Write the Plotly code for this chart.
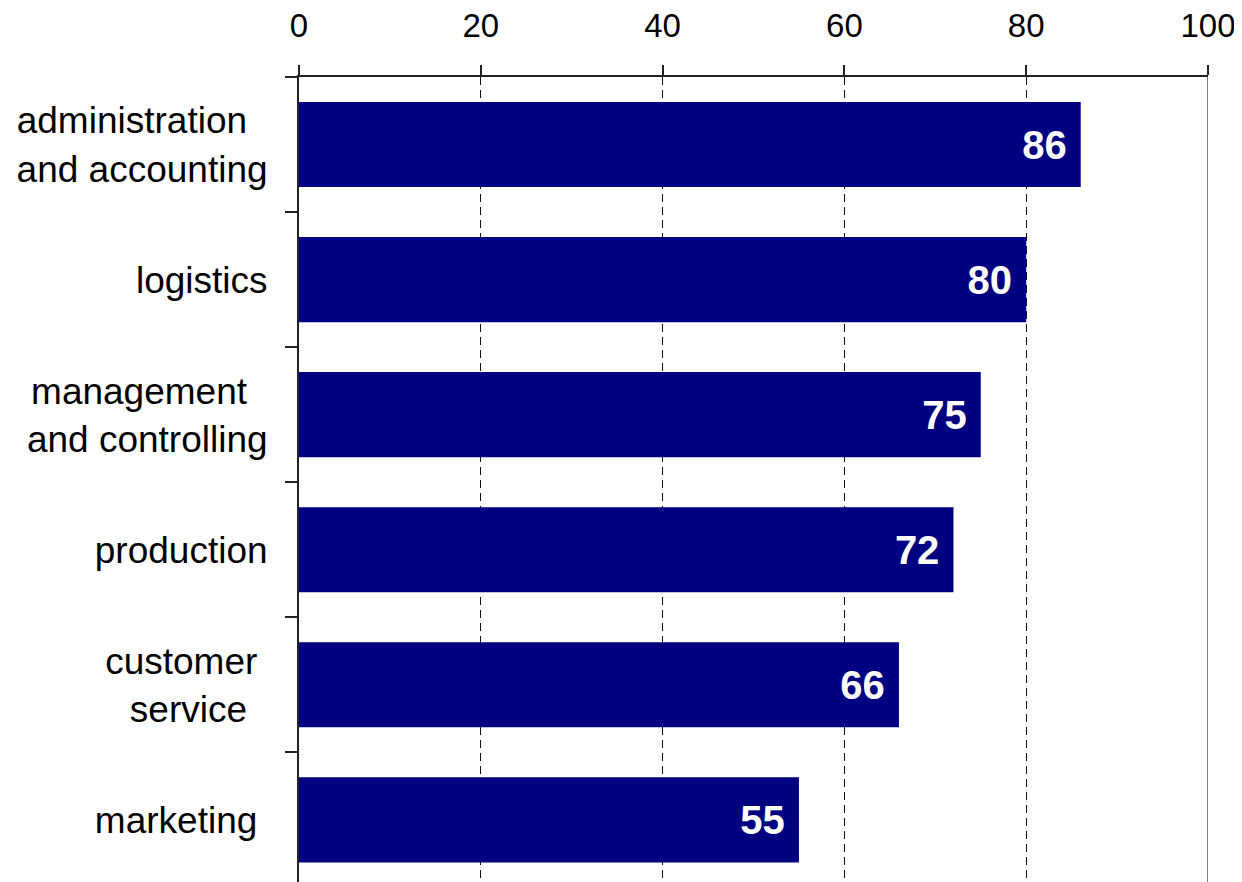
import plotly.graph_objects as go

NB = "\u00a0"
categories = [
    "administration" + NB * 2 + "<br>and accounting",
    "logistics",
    "management" + NB * 2 + "<br>and controlling",
    "production",
    "customer" + NB + "<br>service" + NB * 2,
    "marketing" + NB,
]
values = [86, 80, 75, 72, 66, 55]
x_ticks = [0, 20, 40, 60, 80, 100]

FONT = "Liberation Sans, Arial, sans-serif"

fig = go.Figure()
fig.add_trace(go.Bar(
    y=categories,
    x=values,
    orientation="h",
    width=0.63,
    marker=dict(color="#000080", line=dict(width=0)),
    text=[f"{v}{NB}" for v in values],
    textposition="inside",
    insidetextanchor="end",
    textfont=dict(family=FONT, size=40, color="white", weight="bold"),
    cliponaxis=False,
))

fig.update_layout(
    width=1242,
    height=882,
    margin=dict(l=291, r=42, t=69, b=8, autoexpand=False),
    paper_bgcolor="white",
    plot_bgcolor="white",
    showlegend=False,
    xaxis=dict(
        side="top",
        range=[0, 100],
        tickvals=x_ticks,
        ticktext=[str(t) for t in x_ticks],
        ticks="outside",
        ticklen=10,
        tickwidth=1.5,
        tickcolor="#222222",
        tickfont=dict(family=FONT, size=33, color="black"),
        showline=True,
        linecolor="#222222",
        linewidth=1.5,
        showgrid=True,
        gridcolor="#111111",
        gridwidth=1,
        griddash="8px,5px",
        zeroline=False,
        ticklabelstandoff=15,
    ),
    yaxis=dict(
        type="category",
        range=[5.46, -0.5],
        tickson="boundaries",
        ticks="outside",
        ticklen=12,
        tickwidth=1.5,
        tickcolor="#222222",
        tickfont=dict(family=FONT, size=37, color="black"),
        showline=True,
        linecolor="#222222",
        linewidth=2,
        showgrid=False,
        zeroline=False,
        ticklabelstandoff=22,
    ),
    shapes=[dict(
        type="line", xref="x", yref="paper",
        x0=100, x1=100, y0=0, y1=1,
        line=dict(color="#808080", width=2),
        layer="above",
    )],
)

fig.write_html("out.html")
